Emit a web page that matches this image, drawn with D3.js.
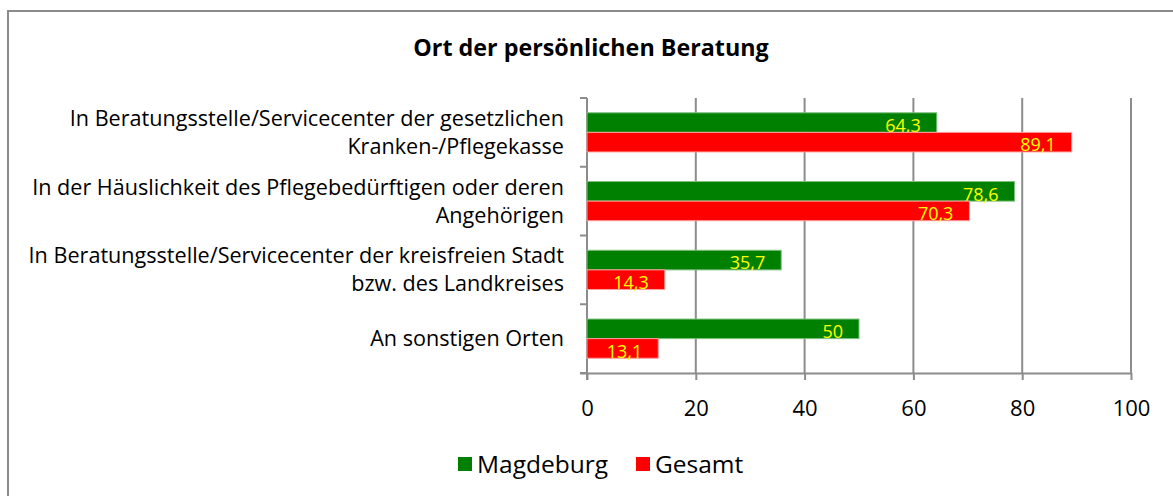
<!DOCTYPE html>
<html><head><meta charset="utf-8">
<script src="https://cdn.jsdelivr.net/npm/d3@7"></script>
<style>
html,body{margin:0;padding:0;background:#fff;}
svg{display:block;font-family:"Open Sans",sans-serif;}
</style></head>
<body>
<svg id="chart" width="1173" height="496"></svg>
<script>
const title = "Ort der persönlichen Beratung";
const categories = [
  ["In Beratungsstelle/Servicecenter der gesetzlichen", "Kranken-/Pflegekasse"],
  ["In der Häuslichkeit des Pflegebedürftigen oder deren", "Angehörigen"],
  ["In Beratungsstelle/Servicecenter der kreisfreien Stadt", "bzw. des Landkreises"],
  ["An sonstigen Orten"]
];
const seriesNames = ["Magdeburg", "Gesamt"];
const magdeburg = [64.3, 78.6, 35.7, 50];
const gesamt = [89.1, 70.3, 14.3, 13.1];
const xTicks = [0, 20, 40, 60, 80, 100];
const colors = ["#008000", "#ff0000"];

const svg = d3.select("#chart");
const W = 1173, H = 496;

svg.append("path").attr("d", `M8,${H} L8,11 L${W},11`)
  .attr("fill","none").attr("stroke","#8c8c8c").attr("stroke-width",2);

const x = d3.scaleLinear().domain([0,100]).range([587,1131]);
const y = d3.scaleBand().domain(d3.range(categories.length)).range([98,373]).paddingInner(0.43).paddingOuter(0.215);
const ySub = d3.scaleBand().domain([0,1]).range([0, y.bandwidth()]);

svg.append("text").attr("x", 591).attr("y", 56).attr("text-anchor","middle")
  .attr("font-weight","bold").attr("font-size",23.3).attr("fill","#000").text(title);

svg.append("g").selectAll("line").data(xTicks.filter(d=>d>0)).join("line")
  .attr("x1", d=>x(d)).attr("x2", d=>x(d)).attr("y1",98).attr("y2",373)
  .attr("stroke","#8c8c8c").attr("stroke-width",2);

const xa = svg.append("g").attr("transform","translate(0,373)")
  .call(d3.axisBottom(x).tickValues(xTicks).tickSize(7).tickPadding(20).tickFormat(d3.format("d")));
xa.select(".domain").attr("stroke","#8c8c8c").attr("stroke-width",2).attr("d", `M${x(0)-7},0.5H${x(100)}`);
xa.selectAll(".tick line").attr("stroke","#8c8c8c").attr("stroke-width",2);
xa.selectAll(".tick text").attr("font-size",22).attr("font-family","'Open Sans',sans-serif").attr("fill","#000");

svg.append("line").attr("x1",x(0)).attr("x2",x(0)).attr("y1",98).attr("y2",380)
  .attr("stroke","#8c8c8c").attr("stroke-width",2);
svg.append("g").selectAll("line").data(d3.range(categories.length+1)).join("line")
  .attr("x1",x(0)-7).attr("x2",x(0)).attr("y1",i=>98+i*(275/categories.length)).attr("y2",i=>98+i*(275/categories.length))
  .attr("stroke","#8c8c8c").attr("stroke-width",2);

const catG = svg.append("g");
categories.forEach((lines,i)=>{
  const cy = y(i)+y.bandwidth()/2;
  const lh = 28;
  const t = catG.append("text").attr("text-anchor","end").attr("font-size",21.6).attr("fill","#000");
  lines.forEach((ln,j)=>{
    t.append("tspan").attr("x",564).attr("y", cy + (j-(lines.length-1)/2)*lh).attr("dy","0.35em").text(ln);
  });
});

const data = [magdeburg, gesamt];
data.forEach((vals,s)=>{
  const g = svg.append("g");
  g.selectAll("rect").data(vals).join("rect")
    .attr("x", x(0)).attr("y",(d,i)=>y(i)+ySub(s)).attr("width",d=>x(d)-x(0)).attr("height",ySub.bandwidth())
    .attr("fill",colors[s]).attr("stroke", s===0?"#7fc07f":"#ff9f9f").attr("stroke-width",1);
  g.selectAll("text").data(vals).join("text")
    .attr("x", d=>x(d)-16).attr("y",(d,i)=>y(i)+ySub(s)+ySub.bandwidth()/2+3)
    .attr("dy","0.35em").attr("text-anchor","end").attr("font-size",18).attr("fill","#ffff00")
    .text(d=>String(d).replace(".",","));
});

const leg = svg.append("g").attr("transform","translate(0,464)");
const legItems = [{n:seriesNames[0],c:colors[0],x:458},{n:seriesNames[1],c:colors[1],x:636}];
legItems.forEach(it=>{
  leg.append("rect").attr("x",it.x).attr("y",-7).attr("width",14).attr("height",14).attr("fill",it.c);
  leg.append("text").attr("x",it.x+19).attr("y",0).attr("dy","0.35em").attr("font-size",24.5).attr("fill","#000").text(it.n);
});
</script>
</body></html>
